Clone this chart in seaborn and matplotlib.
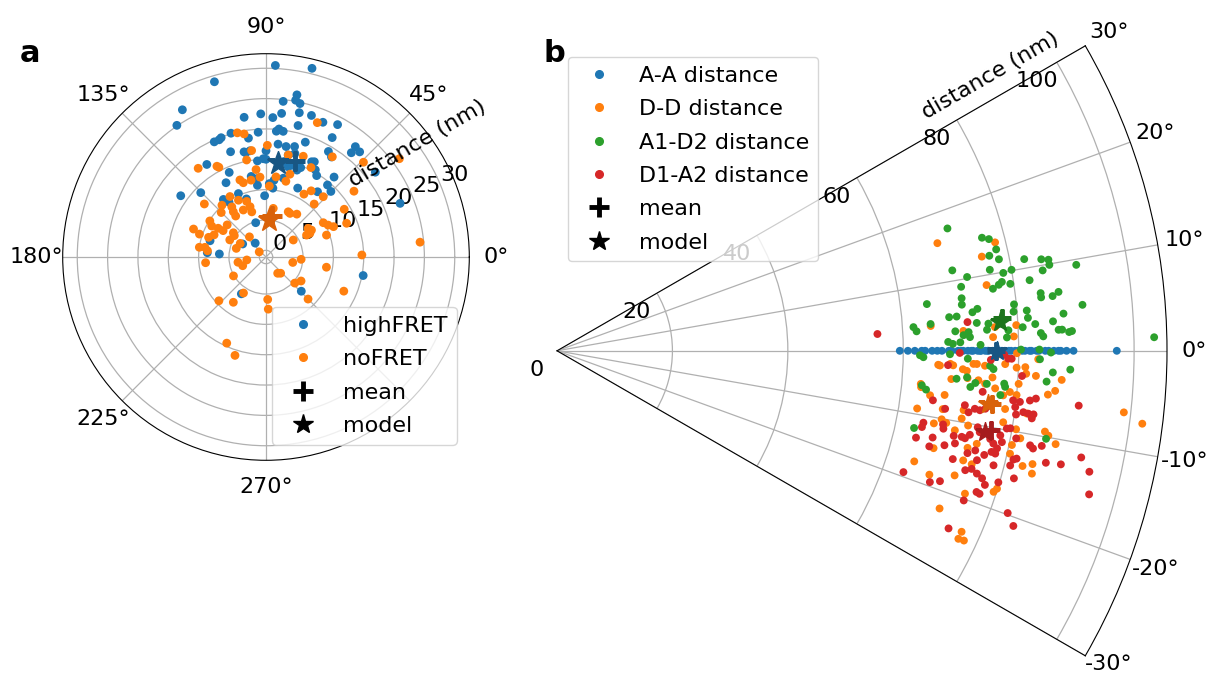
import numpy as np
import matplotlib
matplotlib.use("Agg")
import matplotlib.pyplot as plt
from matplotlib.lines import Line2D
from matplotlib.transforms import offset_copy
import seaborn as sns

plt.rcParams["font.family"] = ["DejaVu Sans"]
plt.rcParams["font.size"] = 16

# ---------------- panel a: positions as (angle in degrees, distance in nm)
hf_angle = [87.2, 76.3, 106.4, 119.6, 124.1, 79.2, 79.3, 77.5, 83.7, 98.9,
            92.1, 87.2, 83.8, 77.0, 72.2, 67.1, 61.6, 76.3, 84.2, 85.3,
            82.2, 93.6, 98.4, 105.8, 110.6, 111.8, 114.2, 61.0, 71.1, 83.9,
            75.5, 51.0, 48.3, 50.7, 59.4, 56.8, 101.8, 108.6, 122.6, 113.5,
            113.5, 118.3, 135.4, 144.3, 95.1, 90.0, 79.4, 70.4, 63.1, 60.5,
            58.1, 49.6, 49.5, 45.3, 51.7, 65.3, 84.3, 96.8, 100.4, 91.3,
            108.6, 126.5, 124.0, 37.8, 21.8, 106.7, 150.8, 127.8, 175.8, 176.3,
            349.2, 315.9, 236.2, 163.8, 79.7, 74.4, 64.4, 68.8, 87.4, 77.7,
            73.5, 76.1, 101.0, 91.6, 98.6, 90.0, 96.7, 84.1, 77.6]
hf_dist = [30.5, 30.9, 29.0, 26.8, 25.1, 26.1, 25.2, 24.8, 24.7, 22.2,
           22.5, 21.9, 22.7, 23.3, 23.4, 23.0, 23.7, 21.2, 20.1, 19.7,
           19.8, 19.5, 18.7, 20.1, 19.9, 19.7, 19.7, 21.4, 18.9, 17.6,
           17.7, 22.3, 22.1, 21.1, 19.1, 18.6, 16.6, 17.2, 17.0, 14.1,
           10.3, 12.8, 14.0, 16.2, 14.8, 15.0, 14.9, 14.1, 16.5, 15.4,
           14.7, 16.2, 14.5, 14.1, 12.6, 11.4, 10.3, 10.8, 12.4, 9.0,
           9.0, 10.7, 9.8, 21.7, 22.7, 4.8, 3.3, 1.8, 8.6, 6.6,
           15.2, 7.0, 6.2, 8.5, 17.4, 16.6, 16.3, 14.7, 11.0, 16.1,
           14.7, 14.2, 16.4, 15.1, 16.6, 16.4, 11.9, 11.6, 12.2]

nf_angle = [69.1, 103.0, 100.1, 89.3, 127.4, 118.4, 117.7, 101.3, 97.7, 96.5,
            94.3, 82.9, 87.3, 108.7, 107.0, 101.0, 69.7, 63.3, 58.9, 55.7,
            46.5, 47.7, 56.5, 44.2, 36.4, 31.4, 30.9, 27.2, 24.2, 22.7,
            34.2, 30.6, 28.4, 28.3, 19.9, 31.9, 61.2, 54.3, 81.5, 139.3,
            130.4, 120.8, 124.3, 115.9, 109.2, 107.6, 107.5, 115.8, 135.2, 125.8,
            126.5, 147.3, 150.3, 149.0, 148.4, 140.4, 143.4, 146.0, 158.9, 161.0,
            161.1, 156.9, 154.7, 129.4, 171.7, 171.0, 173.9, 163.8, 152.2, 142.9,
            185.4, 190.6, 200.5, 188.8, 210.2, 238.0, 222.9, 234.2, 245.5, 252.5,
            272.3, 272.5, 63.8, 356.2, 348.5, 350.4, 1.2, 5.5, 305.7, 312.0,
            317.8, 325.6, 315.0, 336.3, 77.7, 73.9, 75.3, 36.8]
nf_dist = [22.6, 19.9, 19.5, 17.3, 17.3, 15.9, 15.6, 15.2, 16.6, 13.4,
           12.1, 12.2, 10.6, 12.3, 11.7, 11.8, 16.6, 15.4, 11.0, 12.1,
           12.6, 10.7, 18.7, 21.3, 26.2, 14.0, 9.9, 10.4, 11.1, 13.3,
           7.3, 7.6, 6.5, 7.1, 9.5, 4.2, 7.1, 7.6, 7.0, 12.3,
           10.1, 10.5, 8.9, 9.3, 8.6, 7.6, 6.7, 7.5, 9.3, 8.1,
           7.3, 9.9, 9.2, 8.1, 7.2, 7.2, 5.6, 5.2, 11.7, 10.5,
           8.9, 8.2, 5.5, 3.2, 10.0, 9.1, 8.6, 4.0, 3.7, 0.3,
           8.9, 3.6, 3.0, 2.1, 5.1, 5.9, 9.5, 8.1, 14.5, 15.9,
           5.9, 7.5, 7.2, 4.7, 3.4, 9.0, 14.7, 24.4, 2.2, 2.5,
           5.3, 5.9, 8.7, 12.9, 16.1, 13.1, 11.8, 17.0]

# mean and model positions (angle, distance)
hf_mean = (73.2, 15.4)
hf_model = (82.6, 14.6)
nf_mean = (81.7, 5.7)
nf_model = (85.0, 5.1)

# ---------------- panel b: pair distances (angle in degrees, distance in nm)
aa_dist = [59.4, 60.8, 62.0, 63.2, 63.8, 65.0, 65.9, 66.7, 67.9, 68.4,
           69.5, 70.1, 70.4, 71.2, 71.8, 72.1, 72.9, 73.3, 73.5, 74.2,
           74.6, 74.8, 75.5, 75.9, 76.1, 76.8, 77.1, 77.6, 78.3, 78.7,
           79.4, 79.9, 80.6, 81.1, 81.9, 82.2, 83.1, 83.5, 84.6, 85.2,
           86.1, 86.9, 87.3, 88.3, 89.5, 97.0]
aa_angle = [0.0, 0.0, 0.0, 0.0, 0.0, 0.0, 0.0, 0.0, 0.0, 0.0,
            0.0, 0.0, 0.0, 0.0, 0.0, 0.0, 0.0, 0.0, 0.0, 0.0,
            0.0, 0.0, 0.0, 0.0, 0.0, 0.0, 0.0, 0.0, 0.0, 0.0,
            0.0, 0.0, 0.0, 0.0, 0.0, 0.0, 0.0, 0.0, 0.0, 0.0,
            0.0, 0.0, 0.0, 0.0, 0.0, 0.0]

dd_angle = [15.8, 13.9, 12.5, 8.7, 3.8, 2.8, 3.1, 1.8, -2.1, -1.9,
            -2.1, -2.6, -2.8, -1.8, -1.8, -2.0, -0.6, -1.7, -4.1, -3.8,
            -5.2, 3.2, 1.8, -0.3, -1.0, -2.1, -2.0, -2.8, -3.0, -3.3,
            -4.1, -5.7, -6.5, -8.6, -9.1, -10.1, -10.5, -10.9, -11.3, -10.3,
            -13.3, -12.5, -14.5, -17.2, -15.3, -18.4, -17.4, -19.3, -22.4, -17.9,
            -17.4, -24.1, -25.1, -25.0, -9.1, -7.4, -4.9, -4.6, -5.1, -6.2,
            -7.1, -5.2, -5.5, -7.6, -9.4, -9.8, -10.6, -9.7, -10.7, -11.7,
            -13.9, -13.4, -14.5, -12.8, -4.4, -5.7, -8.3, -9.5, -15.1, -6.8,
            -2.2, -4.0, -3.5]
dd_dist = [68.5, 78.2, 75.4, 75.3, 64.9, 70.5, 76.0, 75.6, 66.1, 68.2,
           68.7, 70.4, 71.1, 72.2, 72.8, 74.2, 76.2, 77.7, 68.5, 71.3,
           63.3, 79.7, 79.2, 79.7, 83.4, 79.7, 81.2, 81.4, 83.1, 87.6,
           80.2, 63.4, 67.6, 67.6, 63.2, 67.7, 68.6, 66.5, 70.3, 72.4,
           73.1, 74.5, 67.4, 64.8, 74.5, 68.0, 72.2, 74.9, 71.7, 79.5,
           79.9, 76.8, 76.8, 77.8, 78.3, 78.3, 76.2, 86.6, 85.4, 98.8,
           102.2, 78.8, 80.0, 82.1, 85.7, 86.4, 87.9, 80.7, 81.7, 80.5,
           83.1, 84.7, 85.0, 80.5, 74.4, 77.7, 71.2, 71.1, 72.9, 65.1,
           66.4, 73.2, 75.6]

ad_angle = [17.4, 14.9, 14.5, 13.0, 12.4, 11.7, 11.5, 10.2, 10.6, 9.9,
            8.8, 8.5, 8.1, 9.0, 7.4, 6.5, 7.2, 5.3, 5.7, 4.9,
            4.9, 3.8, 4.1, 3.8, 3.1, 2.8, 2.2, 2.6, 1.9, 2.8,
            3.6, 1.3, 1.0, 1.2, 0.8, 1.7, 2.6, -0.7, -1.0, -0.5,
            -1.1, -2.0, -2.4, -4.0, -3.7, -5.4, -4.4, -4.4, -4.2, 11.1,
            10.7, 10.5, 9.9, 9.4, 9.4, 10.1, 8.5, 8.4, 6.8, 6.3,
            6.3, 6.7, 5.0, 5.8, 4.9, 4.9, 4.0, 4.2, 3.4, 3.2,
            2.9, 2.4, 2.4, 2.1, 2.2, 2.1, 1.7, 1.3, 0.15, 0.15,
            -0.2, -1.0, -2.5, -2.1, -3.6, -6.0, -12.2, -5.0, -5.7, -4.6,
            -10.2]
ad_dist = [70.9, 76.2, 77.3, 78.1, 76.7, 78.2, 69.9, 72.2, 76.3, 78.5,
           78.0, 77.4, 76.3, 70.9, 70.7, 70.6, 64.6, 72.3, 73.2, 68.2,
           69.5, 72.9, 64.9, 61.9, 62.4, 69.1, 70.5, 71.4, 71.6, 74.6,
           74.9, 67.8, 68.6, 69.9, 73.4, 78.0, 78.3, 62.9, 63.5, 68.1,
           71.2, 75.1, 75.7, 69.4, 71.2, 63.5, 72.7, 74.7, 77.7, 82.5,
           85.4, 86.6, 86.6, 91.2, 85.3, 80.0, 82.8, 79.4, 84.4, 84.4,
           86.4, 87.5, 91.4, 79.6, 79.4, 81.7, 81.8, 88.0, 86.1, 83.0,
           80.8, 87.0, 87.6, 88.8, 89.3, 83.9, 84.3, 103.5, 80.4, 83.6,
           85.6, 83.7, 86.0, 89.0, 85.0, 64.3, 63.3, 71.9, 77.2, 77.9,
           86.1]

da_angle = [3.0, 4.0, 3.8, -0.3, -2.1, -1.2, -0.5, -1.0, -1.0, -3.1,
            -5.5, -7.5, -8.5, -7.6, -8.5, -7.9, -8.0, -7.7, -11.1, -11.8,
            -10.8, -11.4, -13.6, -13.0, -14.4, -13.7, -12.1, -13.1, -12.0, -12.1,
            -11.5, -10.3, -10.9, -11.5, -12.0, -12.5, -13.1, -10.8, -11.6, -13.2,
            -14.0, -13.4, -13.7, -14.7, -15.3, -14.6, -15.9, -16.3, -16.7, -17.4,
            -16.6, -16.3, -18.6, -18.7, -20.2, -19.3, -19.4, -18.8, -19.8, -24.4,
            -9.8, -6.0, -6.2, -6.3, -7.0, -6.0, -5.7, -7.9, -7.5, -7.6,
            -7.6, -8.1, -9.7, -10.8, -11.3, -11.6, -11.1, -13.4, -13.2, -14.2,
            -15.6, -12.9, -12.7, -11.5, -12.8, -15.1, -21.0]
da_dist = [55.6, 71.3, 76.8, 69.8, 67.8, 75.2, 77.5, 78.2, 78.8, 80.7,
           74.1, 65.7, 68.0, 71.3, 72.1, 73.1, 74.0, 74.9, 64.7, 64.6,
           68.1, 68.3, 64.0, 66.8, 66.6, 69.1, 70.3, 70.8, 71.7, 72.3,
           73.0, 74.1, 74.6, 76.6, 77.3, 78.1, 77.3, 78.2, 78.7, 78.0,
           73.3, 74.5, 76.2, 78.2, 71.1, 75.2, 74.7, 75.8, 76.9, 77.7,
           79.8, 73.7, 76.7, 77.3, 75.1, 63.6, 68.5, 70.1, 83.0, 74.5,
           79.1, 90.9, 79.5, 80.7, 80.0, 82.4, 83.4, 80.3, 81.5, 82.4,
           83.3, 83.1, 79.7, 81.0, 83.6, 84.2, 85.6, 81.3, 81.8, 81.0,
           82.2, 86.9, 89.5, 92.7, 94.6, 95.5, 84.7]

aa_mean, aa_model = (0.0, 76.0), (0.0, 76.3)
dd_mean, dd_model = (-7.0, 76.0), (-7.0, 75.3)
ad_mean, ad_model = (4.2, 77.3), (3.7, 76.9)
da_mean, da_model = (-10.3, 76.5), (-10.7, 75.5)

a_theta_ticks = [0, 45, 90, 135, 180, 225, 270, 315]
a_theta_labels = ["0°", "45°", "90°", "135°", "180°", "225°", "270°", ""]
a_r_ticks = [0, 5, 10, 15, 20, 25, 30]
b_theta_ticks = [-30, -20, -10, 0, 10, 20, 30]
b_theta_labels = ["-30°", "-20°", "-10°", "0°", "10°", "20°", "30°"]
b_r_ticks = [0, 20, 40, 60, 80, 100]

# ---------------- styling
pal = sns.color_palette("tab10")
C_BLUE, C_ORANGE, C_GREEN, C_RED = pal[0], pal[1], pal[2], pal[3]
D_BLUE, D_ORANGE, D_GREEN, D_RED = "#185683", "#d9620a", "#1c741c", "#a51c1d"

W, H = 1207, 675
fig = plt.figure(figsize=(W / 100, H / 100), dpi=100)


def dots(ax, ang, dist, color, size):
    sns.scatterplot(x=np.deg2rad(ang), y=dist, ax=ax, color=color, s=size,
                    linewidth=0, edgecolor="none", legend=False, zorder=3)


def summary(ax, mean, model, color, ms_star, ms_plus):
    ax.plot(np.deg2rad(mean[0]), mean[1], marker="+", ms=ms_plus, mew=3.5,
            color=color, ls="none", zorder=5)
    ax.plot(np.deg2rad(model[0]), model[1], marker="*", ms=ms_star,
            color=color, ls="none", zorder=6)


def legend_at(handles, x_px, y_px):
    fig.legend(handles=handles, loc="upper left",
               bbox_to_anchor=(x_px / W, 1 - y_px / H),
               bbox_transform=fig.transFigure, borderaxespad=0,
               labelspacing=0.6, fontsize=16)


def dot_handle(color, label):
    return Line2D([0], [0], marker="o", ls="none", color=color, ms=5.5, label=label)


mean_handle = Line2D([0], [0], marker="+", ls="none", color="black", ms=14,
                     mew=3.5, label="mean")
model_handle = Line2D([0], [0], marker="*", ls="none", color="black", ms=15,
                      label="model")

# ---- panel a
ax_a = fig.add_axes([62.7 / W, 1 - 460.3 / H, 406.6 / W, 406.6 / H],
                    projection="polar")
dots(ax_a, hf_angle, hf_dist, C_BLUE, 40)
dots(ax_a, nf_angle, nf_dist, C_ORANGE, 40)
summary(ax_a, hf_mean, hf_model, D_BLUE, 17, 15)
summary(ax_a, nf_mean, nf_model, D_ORANGE, 17, 15)
ax_a.set_rlim(-1.1, 32.4)
ax_a.set_rticks(a_r_ticks)
ax_a.set_rlabel_position(22.5)
ax_a.set_thetagrids(a_theta_ticks, labels=a_theta_labels)
ax_a.tick_params(axis="x", pad=8.5)
ax_a.set_xlabel("")
ax_a.set_ylabel("")
ax_a.grid(True, color="#b0b0b0", lw=0.9)

legend_at([dot_handle(C_BLUE, "highFRET"), dot_handle(C_ORANGE, "noFRET"),
           mean_handle, model_handle], 272, 307)
fig.text(417.5 / W, 1 - 144 / H, "distance (nm)", rotation=30,
         ha="center", va="center", fontsize=16)
fig.text(20 / W, 1 - 62 / H, "a", fontsize=22, fontweight="bold",
         ha="left", va="baseline")

# ---- panel b
ax_b = fig.add_axes([557 / W, 1 - 656.3 / H, 610 / W, 611 / H],
                    projection="polar")
ax_b.set_thetamin(-30)
ax_b.set_thetamax(30)
dots(ax_b, aa_angle, aa_dist, C_BLUE, 32)
dots(ax_b, dd_angle, dd_dist, C_ORANGE, 32)
dots(ax_b, ad_angle, ad_dist, C_GREEN, 32)
dots(ax_b, da_angle, da_dist, C_RED, 32)
summary(ax_b, aa_mean, aa_model, D_BLUE, 15, 13)
summary(ax_b, dd_mean, dd_model, D_ORANGE, 15, 13)
summary(ax_b, ad_mean, ad_model, D_GREEN, 15, 13)
summary(ax_b, da_mean, da_model, D_RED, 15, 13)
r_max_b = 105.7
ax_b.set_rlim(0, r_max_b)
ax_b.set_rticks(b_r_ticks)
ax_b.set_yticklabels([])
ax_b.set_thetagrids(b_theta_ticks, labels=[""] * len(b_theta_ticks))
ax_b.set_xlabel("")
ax_b.set_ylabel("")
ax_b.grid(True, color="#b0b0b0", lw=0.9)

# angle labels just outside the arc, centred on the radial direction
r_out = r_max_b * (610 + 27) / 610
for t, lab in zip(b_theta_ticks, b_theta_labels):
    tr = ax_b.transData
    if t == -30:
        # keep the lowest label inside the canvas
        tr = offset_copy(ax_b.transData, fig=fig, x=0, y=5, units="dots")
    ax_b.text(np.deg2rad(t), r_out, lab, ha="center", va="center",
              fontsize=16, clip_on=False, transform=tr)

# distance labels along the upper edge of the wedge
r_lab_tr = offset_copy(ax_b.transData, fig=fig, x=-20, y=-19, units="dots")
for r in b_r_ticks:
    ax_b.text(np.deg2rad(30), r, str(r), transform=r_lab_tr,
              ha="center", va="center", fontsize=16, clip_on=False)

legend_at([dot_handle(C_BLUE, "A-A distance"), dot_handle(C_ORANGE, "D-D distance"),
           dot_handle(C_GREEN, "A1-D2 distance"), dot_handle(C_RED, "D1-A2 distance"),
           mean_handle, model_handle], 568, 57)
fig.text(990 / W, 1 - 76 / H, "distance (nm)", rotation=30,
         ha="center", va="center", fontsize=16)
fig.text(543 / W, 1 - 62 / H, "b", fontsize=22, fontweight="bold",
         ha="left", va="baseline")

fig.savefig("out.png", dpi=100)
